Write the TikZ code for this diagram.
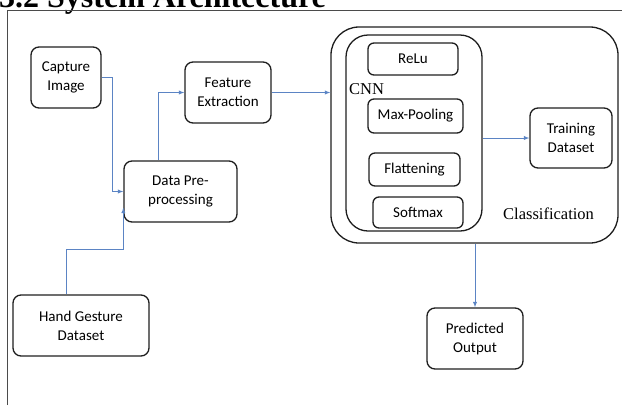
\documentclass[tikz,border=0pt]{standalone}
\usepackage{fontspec}
\setmainfont{Liberation Serif}
\newfontfamily\boxfont{Carlito}
\usetikzlibrary{positioning, calc}
\definecolor{flowblue}{HTML}{5B84C4}
\definecolor{boxline}{HTML}{1E1E1E}

\begin{document}
\begin{tikzpicture}[x=1pt, y=-1pt,
  block/.style={draw=boxline,
    line width=1.3pt,
    rounded corners=8pt,
    align=center,
    inner sep=0pt,
    minimum height=61pt,
    font=\boxfont\fontsize{15}{19}\selectfont},
  layer/.style={block,
    rounded corners=6pt,
    minimum height=32pt},
  group/.style={draw=boxline,
    line width=1.3pt,
    inner sep=0pt},
  flow/.style={draw=flowblue,
    line width=0.9pt,
    -latex}]

  \path[use as bounding box, clip] (0,0) rectangle (622,405);

  % title and page frame
  \node [anchor=base west, inner sep=0pt,
    font=\bfseries\fontsize{32}{36}\selectfont] (title) at (-1,7)
    {3.2 System Architecture};
  \draw [line width=1pt, draw=boxline!80] (7,405) |- (622,10);

  % input side
  \node [block, minimum width=70pt] (capture) at (66,77.5) {Capture\\Image};
  \node [block, minimum width=113pt] (prep) at (180.5,191.5) {Data Pre-\\processing};
  \node [block, minimum width=86pt] (feature) at (228,92.5) {Feature\\Extraction};
  \node [block, minimum width=136pt] (gesture) at (81,325.5) {Hand Gesture\\Dataset};

  % classification block
  \node [group, rounded corners=28pt, minimum width=287pt,
    minimum height=216pt] (classify) at (474.5,135) {};
  \node [group, rounded corners=22pt, minimum width=136pt,
    minimum height=196pt] (cnn) at (414,133) {};
  \node [anchor=base west, inner sep=0pt,
    font=\fontsize{16.5}{18}\selectfont] (cnnlabel) at (349,94) {CNN};
  \node [anchor=base west, inner sep=0pt,
    font=\fontsize{16.5}{18}\selectfont] (classlabel) at (503,219) {Classification};

  \node [layer, minimum width=90pt] (relu) at (413,59) {ReLu};
  \node [layer, minimum width=95pt, minimum height=34pt] (maxpool) at (415.5,116) {Max-Pooling};
  \node [layer, minimum width=91pt, minimum height=33pt] (flatten) at (414.5,169.5) {Flattening};
  \node [layer, minimum width=90pt, minimum height=31pt] (softmax) at (418,212.5) {Softmax};

  % outputs
  \node [block, minimum width=82pt, minimum height=60pt] (training) at (571,138) {Training\\Dataset};
  \node [block, minimum width=96pt] (predicted) at (475,338.5) {Predicted\\Output};

% CONNECTIONS

  \draw[flow] (capture.east) -- ++(11,0) |- (prep.west);
  \draw[flow] ([xshift=-22.5pt]prep.north) |- (feature.west);
  \draw[flow] (gesture.north) ++(-15,0) -- ++(0,-45)
    -| ([yshift=15pt]prep.south west);
  \draw[flow] (feature.east) -- (feature.east -| classify.west);
  \draw[flow] (training.west -| cnn.east) -- (training.west);
  \draw[flow] (predicted.north |- classify.south) -- (predicted.north);

\end{tikzpicture}
\end{document}
